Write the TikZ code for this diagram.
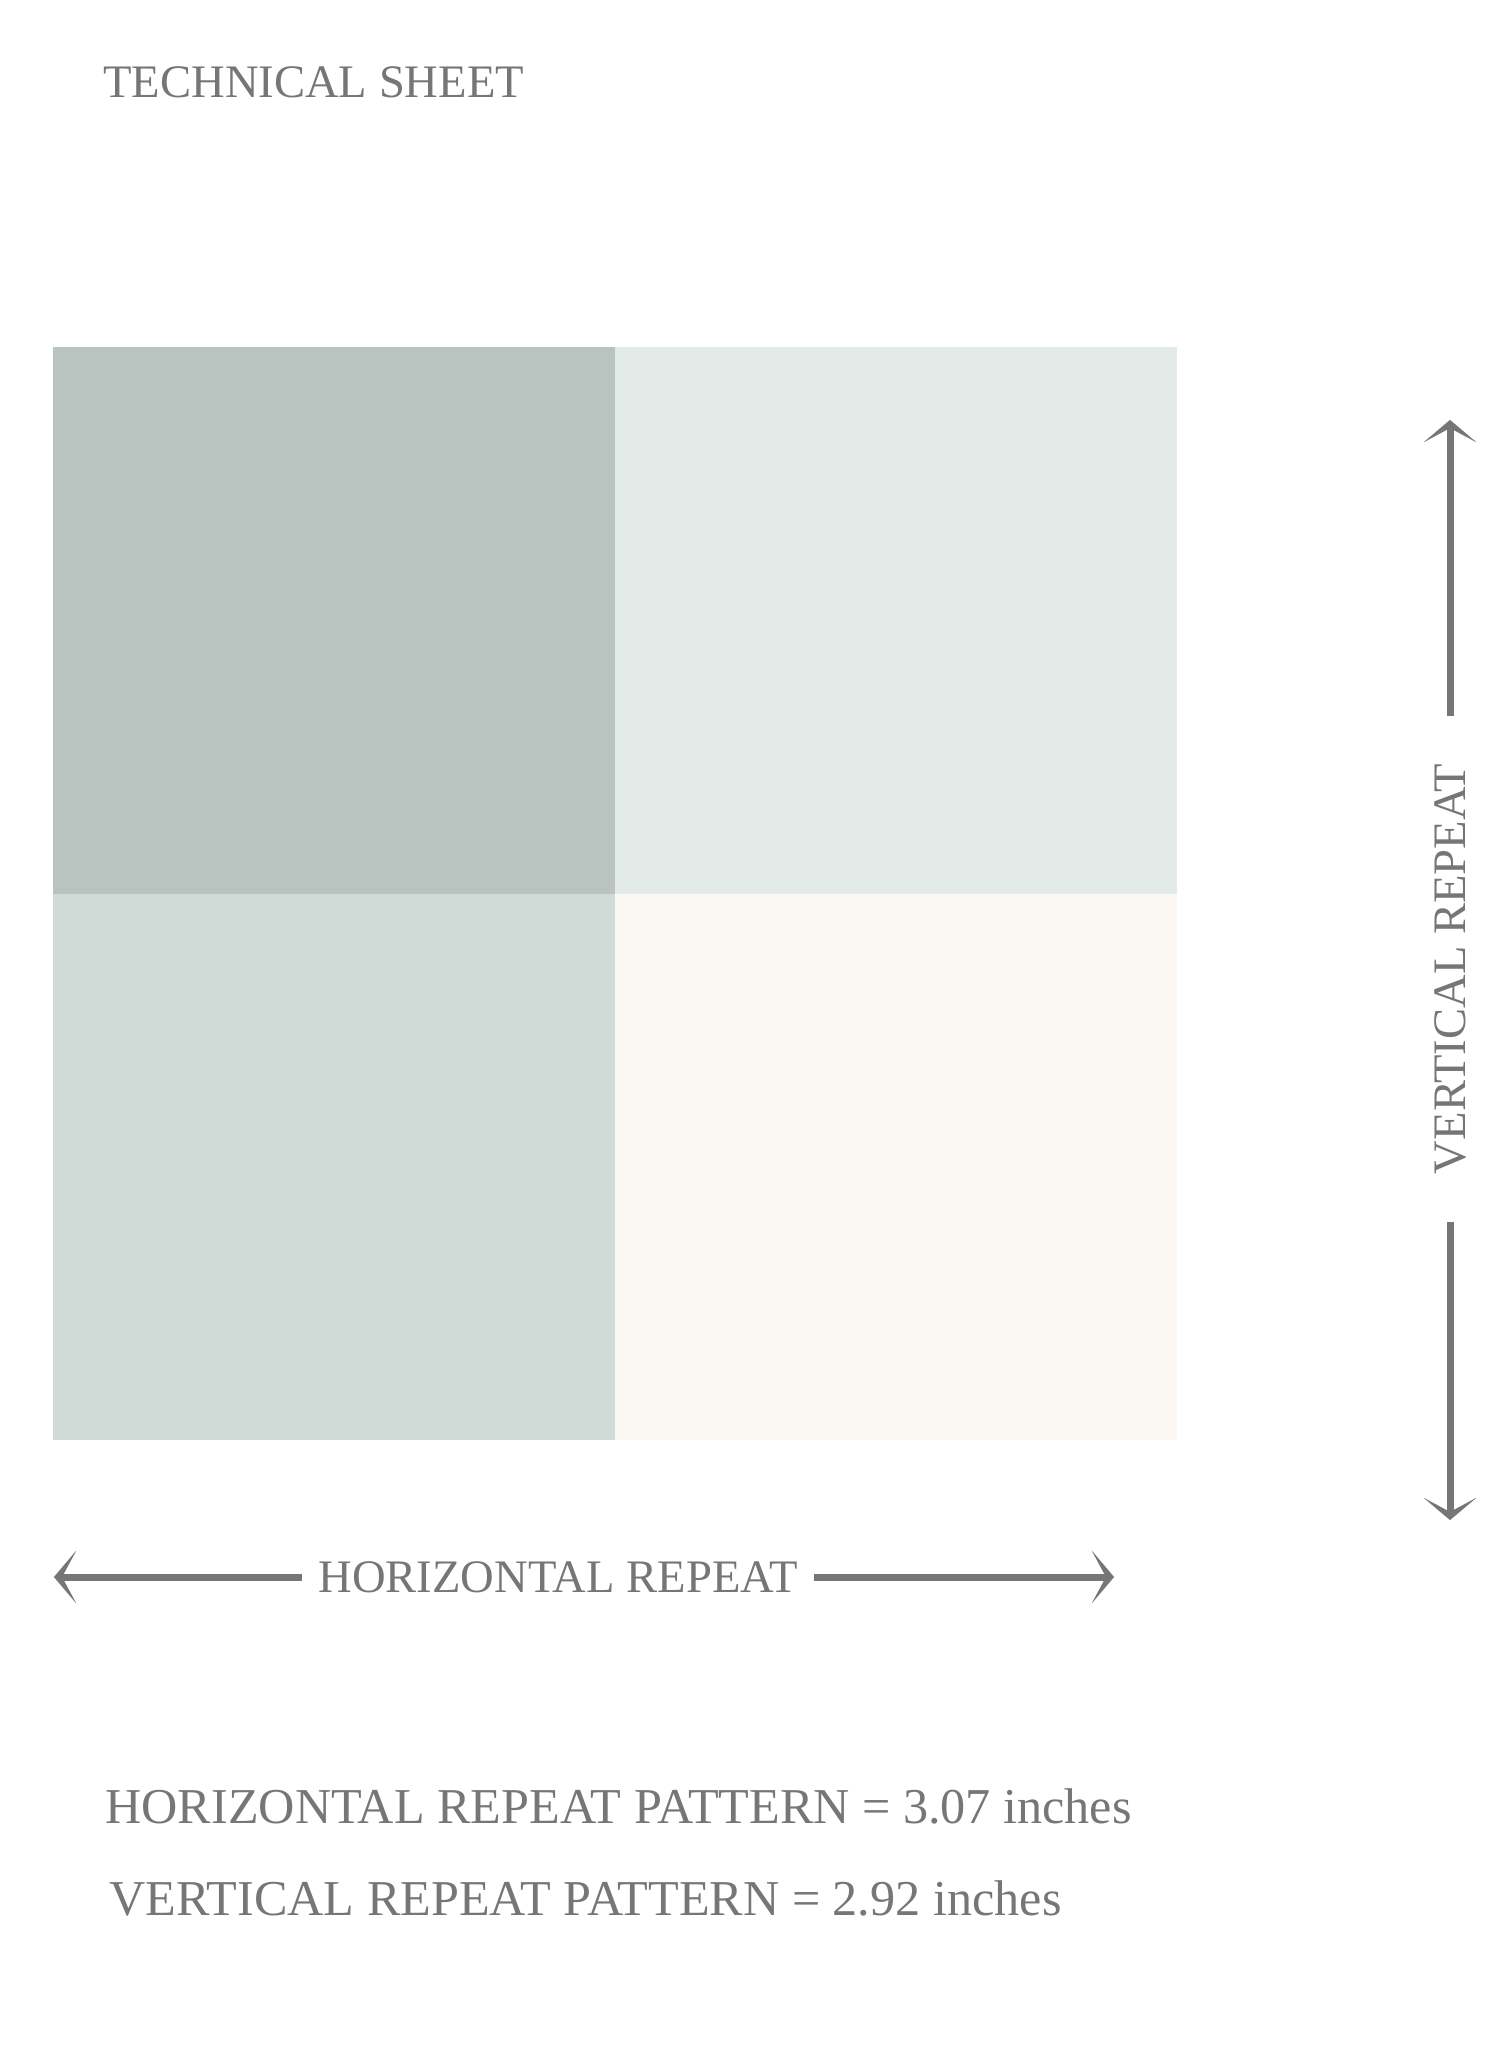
\documentclass[tikz,border=0pt]{standalone}
\usepackage{fontspec}
\setmainfont{Liberation Serif}
\usetikzlibrary{arrows.meta}
\definecolor{txtgray}{RGB}{118,118,118}
\definecolor{tlc}{RGB}{185,196,192}
\definecolor{trc}{RGB}{226,235,232}
\definecolor{blc}{RGB}{208,219,216}
\definecolor{brc}{RGB}{250,248,240}
\begin{document}
\begin{tikzpicture}[x=0.5pt,y=-0.5pt,
  lbl/.style={text=txtgray, font=\fontsize{23.3}{27}\selectfont, inner sep=0pt},
  lbltwo/.style={text=txtgray, font=\fontsize{25.1}{29}\selectfont, inner sep=0pt},
  dimarrow/.style={draw=txtgray, line width=3.5pt, -{Stealth[length=11pt,width=26pt,inset=7pt,line width=0.01pt]}},
]
\useasboundingbox (0,0) rectangle (1500,2063);
\fill[white] (0,0) rectangle (1500,2063);
% pattern squares
\fill[tlc] (53,347) rectangle (615,894);
\fill[trc] (615,347) rectangle (1177,894);
\fill[blc] (53,894) rectangle (615,1440);
\fill[brc] (615,894) rectangle (1177,1440);
% title
\node[lbl, anchor=base west] (title) at (103,97) {TECHNICAL SHEET};
% dimension labels
\node[lbl, inner xsep=8pt] (hlab) at (558,1577) {HORIZONTAL REPEAT};
\node[lbl, rotate=90, inner xsep=24pt] (vlab) at (1450,969) {VERTICAL REPEAT};
\coordinate (hl) at (54,1577);
\coordinate (hr) at (1114,1577);
\coordinate (vt) at (1450,420);
\coordinate (vb) at (1450,1520);
\draw[dimarrow] (hlab.west) -- (hl);
\draw[dimarrow] (hlab.east) -- (hr);
\draw[dimarrow] (vlab.east) -- (vt);
\draw[dimarrow] (vlab.west) -- (vb);
% repeat values
\node[lbltwo, anchor=base west] (hp) at (105,1823) {HORIZONTAL REPEAT PATTERN = 3.07 inches};
\node[lbltwo, anchor=base west] (vp) at (109,1915) {VERTICAL REPEAT PATTERN = 2.92 inches};
\end{tikzpicture}
\end{document}
